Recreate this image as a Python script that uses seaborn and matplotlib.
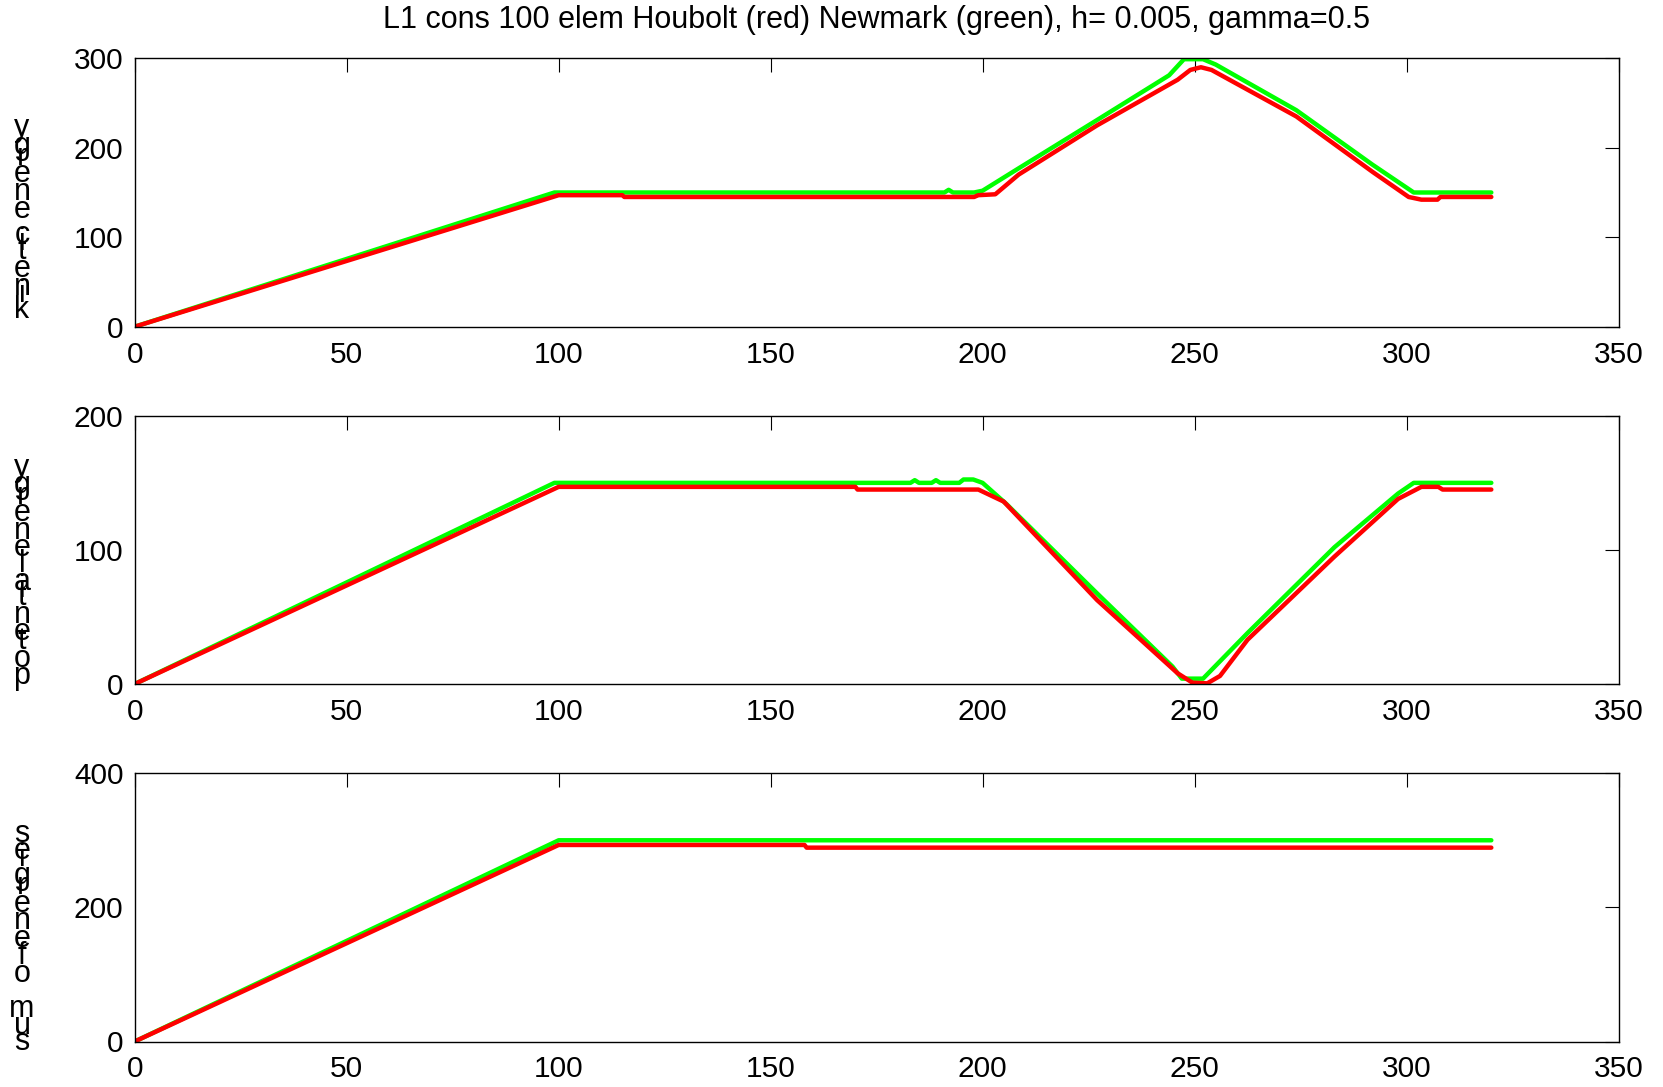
import matplotlib
matplotlib.use("Agg")
import matplotlib.pyplot as plt
import seaborn as sns
import numpy as np
from matplotlib.font_manager import FontProperties

# ---------------- data ----------------
title = "L1 cons 100 elem Houbolt (red) Newmark (green), h= 0.005, gamma=0.5"
ylabels = ["kinetic energy", "potential energy", "sum of energies"]

# panel 1 : kinetic energy
kin_green_x = [0, 99, 191, 192, 193, 198, 200, 208.5, 227, 244, 247.5, 252, 255, 274, 292, 301.7, 320]
kin_green_y = [0, 150, 150, 153, 150, 150, 152, 177, 231, 281, 299, 299, 293, 242, 181, 150, 150]
kin_red_x = [0, 100, 115, 115.5, 198, 199, 203, 208.5, 227, 246, 249, 251.5, 254, 274, 292, 300.5, 303.5, 307.3, 308, 320]
kin_red_y = [0, 147, 147, 145, 145, 147, 148, 170, 225, 276, 287, 290, 287, 235, 173, 145, 142, 142, 145, 145]

# panel 2 : potential energy
pot_green_x = [0, 99, 183, 184, 185, 188, 189, 190, 194.5, 195.5, 197.8, 200, 205.7, 227, 244.8, 247, 252, 262.5, 283, 298, 301.7, 320]
pot_green_y = [0, 150, 150, 152, 150, 150, 152, 150, 150, 152.5, 152.5, 150, 134, 67.6, 13, 4, 4, 38, 102, 142, 150, 150]
pot_red_x = [0, 100, 170, 170.5, 199, 205, 227, 246, 249.5, 253, 256, 262.5, 283, 298, 303.5, 307.5, 308.5, 320]
pot_red_y = [0, 147, 147, 145, 145, 136, 62.6, 8, 1, 0.5, 6, 33, 95, 138, 147, 147, 145, 145]

# panel 3 : sum of energies
sum_green_x = [0, 100, 320]
sum_green_y = [0, 300, 300]
sum_red_x = [0, 100, 158, 158.5, 320]
sum_red_y = [0, 293, 293, 289, 289]

xticks = [0, 50, 100, 150, 200, 250, 300, 350]
yticks = [[0, 100, 200, 300], [0, 100, 200], [0, 200, 400]]
ylims = [(0, 300), (0, 200), (0, 400)]

panels = [
    (kin_green_x, kin_green_y, kin_red_x, kin_red_y),
    (pot_green_x, pot_green_y, pot_red_x, pot_red_y),
    (sum_green_x, sum_green_y, sum_red_x, sum_red_y),
]

# ---------------- style ----------------
sns.set_style("white")
plt.rcParams["font.family"] = ["Liberation Sans", "DejaVu Sans"]
plt.rcParams["text.color"] = "black"

W, H, DPI = 1663, 1087, 100
fig = plt.figure(figsize=(W / DPI, H / DPI), dpi=DPI)

left, right = 134.7 / W, 1618.5 / W
axes_px = [(58.3, 326.7), (415.8, 684.0), (773.2, 1041.5)]
FS = 21.5
GREEN = "#00ff00"
RED = "#ff0000"

axs = []
for i, (top_px, bot_px) in enumerate(axes_px):
    ax = fig.add_axes([left, 1 - bot_px / H, right - left, (bot_px - top_px) / H])
    gx, gy, rx, ry = panels[i]
    sns.lineplot(x=gx, y=gy, color=GREEN, lw=3.2, ax=ax, sort=False, estimator=None)
    sns.lineplot(x=rx, y=ry, color=RED, lw=3.2, ax=ax, sort=False, estimator=None)
    ax.set_xlim(0, 350)
    ax.set_ylim(*ylims[i])
    ax.set_xticks(xticks)
    ax.set_yticks(yticks[i])
    ax.tick_params(direction="in", length=10, width=0.8, top=True, right=True,
                   labelsize=FS, colors="black")
    ax.tick_params(axis="x", pad=10)
    ax.tick_params(axis="y", pad=8)
    for s in ax.spines.values():
        s.set_visible(True)
        s.set_color("black")
        s.set_linewidth(1.0)
    ax.set_xlabel("")
    ax.set_ylabel("")
    axs.append(ax)

fig.text((left + right) / 2, 1 - 20 / H, title, ha="center", va="center",
         fontsize=22, color="black")

# ---------------- stacked (upright-glyph) y labels ----------------
LFS = 22
fp = FontProperties(family="Liberation Sans", size=LFS)
renderer = fig.canvas.get_renderer()
# (baseline of first char, baseline of last char) in pixels from the top
label_span = [(318, 136), (684, 476), (1050, 842)]
x_center = 22
for lab, (b0, b1) in zip(ylabels, label_span):
    widths = []
    for ch in lab:
        if ch == " ":
            widths.append(0.278 * LFS * DPI / 72)
        else:
            w, h, d = renderer.get_text_width_height_descent(ch, fp, ismath=False)
            widths.append(w)
    total = sum(widths[:-1])
    scale = (b0 - b1) / total
    y = b0
    for ch, w in zip(lab, widths):
        if ch != " ":
            fig.text(x_center / W, 1 - y / H, ch, fontproperties=fp,
                     ha="center", va="baseline", color="black")
        y -= w * scale

fig.savefig("out.png", dpi=DPI)
